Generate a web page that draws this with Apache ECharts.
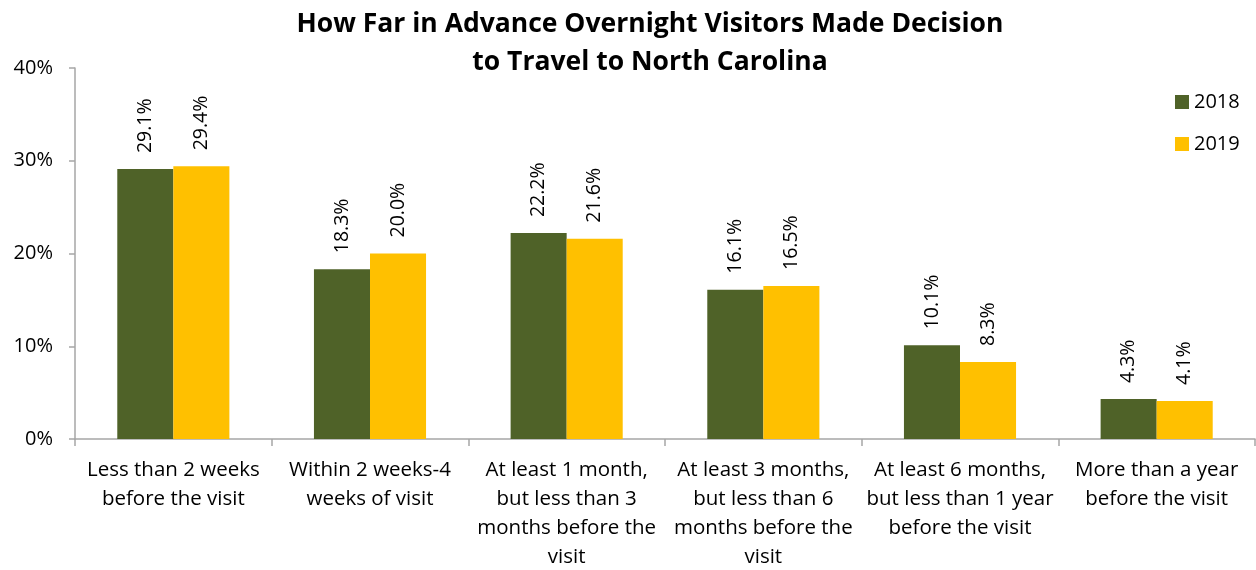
<!DOCTYPE html>
<html>
<head>
<meta charset="utf-8">
<script src="https://cdn.jsdelivr.net/npm/echarts@6/dist/echarts.min.js"></script>
<style>
  html, body { margin: 0; padding: 0; background: #fff; }
  #chart { width: 1256px; height: 570px; }
</style>
</head>
<body>
<div id="chart"></div>
<script>
let categories = [
    "Less than 2 weeks\nbefore the visit",
    "Within 2 weeks-4\nweeks of visit",
    "At least 1 month,\nbut less than 3\nmonths before the\nvisit",
    "At least 3 months,\nbut less than 6\nmonths before the\nvisit",
    "At least 6 months,\nbut less than 1 year\nbefore the visit",
    "More than a year\nbefore the visit"
];
let values2018 = [29.1, 18.3, 22.2, 16.1, 10.1, 4.3];
let values2019 = [29.4, 20.0, 21.6, 16.5, 8.3, 4.1];
let yTicks = [0, 10, 20, 30, 40];

let fontName = "Open Sans";
let Chart = echarts.init(document.getElementById("chart"));

let barLabel = {
    show: true,
    position: 'top',
    rotate: 90,
    align: 'left',
    verticalAlign: 'middle',
    distance: 16,
    fontFamily: fontName,
    fontSize: 19.5,
    color: '#000',
    formatter: function (p) {
        return p.value.toFixed(1) + '%';
    }
};

let option = {
    animation: false,
    textStyle: { fontFamily: fontName },
    title: {
        text: 'How Far in Advance Overnight Visitors Made Decision\nto Travel to North Carolina',
        left: 645,
        top: 0,
        textAlign: 'center',
        textStyle: {
            fontFamily: fontName,
            fontSize: 26.5,
            fontWeight: 'bold',
            color: '#000',
            lineHeight: 38
        }
    },
    legend: {
        orient: 'vertical',
        left: 1170,
        top: 87,
        itemWidth: 14,
        itemHeight: 14,
        itemGap: 22,
        icon: 'rect',
        textStyle: { fontFamily: fontName, fontSize: 20, color: '#000' },
        data: ['2018', '2019']
    },
    grid: {
        left: 75,
        right: 1,
        top: 68,
        bottom: 131,
        outerBoundsMode: 'none'
    },
    xAxis: {
        type: 'category',
        data: categories,
        axisLine: { lineStyle: { color: '#a6a6a6', width: 1.5 } },
        axisTick: { show: true, length: 7, lineStyle: { color: '#a6a6a6', width: 1.5 } },
        axisLabel: {
            interval: 0,
            margin: 17,
            fontFamily: fontName,
            fontSize: 20.5,
            lineHeight: 29,
            color: '#000',
            verticalAlign: 'top'
        }
    },
    yAxis: {
        type: 'value',
        min: yTicks[0],
        max: yTicks[yTicks.length - 1],
        interval: 10,
        axisLine: { show: true, lineStyle: { color: '#a6a6a6', width: 1.5 } },
        axisTick: { show: true, length: 6, lineStyle: { color: '#a6a6a6', width: 1.5 } },
        splitLine: { show: false },
        axisLabel: {
            margin: 22,
            fontFamily: fontName,
            fontSize: 20,
            color: '#000',
            formatter: '{value}%'
        }
    },
    series: [
        {
            name: '2018',
            type: 'bar',
            data: values2018,
            barGap: '0%',
            barCategoryGap: '43%',
            itemStyle: { color: '#4f6228' },
            label: barLabel
        },
        {
            name: '2019',
            type: 'bar',
            data: values2019,
            itemStyle: { color: '#ffc000' },
            label: barLabel
        }
    ]
};

Chart.setOption(option);
</script>
</body>
</html>
